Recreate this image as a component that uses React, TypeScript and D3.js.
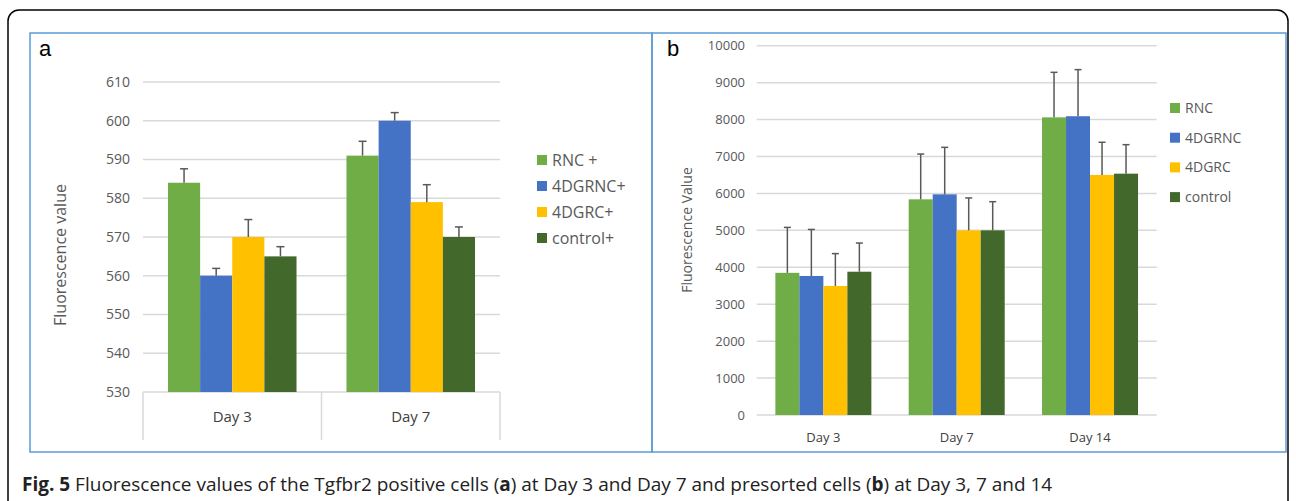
import React, { useEffect, useRef } from "react";
import * as d3 from "d3";

const daysA = ["Day 3", "Day 7"];
const seriesA = ["RNC +", "4DGRNC+", "4DGRC+", "control+"];
const valuesA = [
  [584, 560, 570, 565],
  [591, 600, 579, 570],
];
const errorsA = [
  [3.6, 1.9, 4.5, 2.5],
  [3.7, 2.1, 4.5, 2.6],
];
const ticksA = [530, 540, 550, 560, 570, 580, 590, 600, 610];

const daysB = ["Day 3", "Day 7", "Day 14"];
const seriesB = ["RNC", "4DGRNC", "4DGRC", "control"];
const valuesB = [
  [3850, 3765, 3495, 3880],
  [5840, 5975, 5000, 5000],
  [8060, 8090, 6500, 6535],
];
const errorsB = [
  [1230, 1260, 875, 777],
  [1226, 1273, 877, 776],
  [1219, 1262, 885, 785],
];
const ticksB = [0, 1000, 2000, 3000, 4000, 5000, 6000, 7000, 8000, 9000, 10000];

const colors = ["#70AD47", "#4472C4", "#FFC000", "#43682B"];
const font = "'Open Sans', 'Noto Sans', sans-serif";

const drawPanel = (svg, cfg) => {
  const g = svg.append("g");
  const y = d3.scaleLinear().domain(cfg.domain).range([cfg.bottom, cfg.top]);
  const x0 = d3.scaleBand().domain(cfg.days).range(cfg.xRange).padding(0);
  const gap = x0.bandwidth() * 0.14;
  const x1 = d3
    .scaleBand()
    .domain(d3.range(cfg.series.length))
    .range([gap, x0.bandwidth() - gap]);

  // gridlines
  g.selectAll(".grid")
    .data(cfg.ticks)
    .enter()
    .append("line")
    .attr("x1", cfg.xRange[0])
    .attr("x2", cfg.xRange[1])
    .attr("y1", (d) => y(d))
    .attr("y2", (d) => y(d))
    .attr("stroke", "#D9D9D9")
    .attr("stroke-width", 1.5);

  g.selectAll(".tick")
    .data(cfg.ticks)
    .enter()
    .append("text")
    .attr("x", cfg.labelX)
    .attr("y", (d) => y(d))
    .attr("dy", "0.35em")
    .attr("text-anchor", "end")
    .style("font-family", font)
    .style("font-size", cfg.tickSize + "px")
    .style("fill", "#595959")
    .text((d) => d);

  const groups = g
    .selectAll(".grp")
    .data(cfg.values)
    .enter()
    .append("g")
    .attr("transform", (d, i) => `translate(${x0(cfg.days[i])},0)`);

  groups
    .selectAll("rect")
    .data((d) => d)
    .enter()
    .append("rect")
    .attr("x", (d, j) => x1(j))
    .attr("width", x1.bandwidth())
    .attr("y", (d) => y(d))
    .attr("height", (d) => cfg.bottom - y(d))
    .attr("fill", (d, j) => colors[j]);

  // error bars (plus only)
  groups.each(function (row, i) {
    const eg = d3.select(this);
    row.forEach((v, j) => {
      const cx = x1(j) + x1.bandwidth() / 2;
      const top = y(v + cfg.errors[i][j]);
      eg.append("line")
        .attr("x1", cx)
        .attr("x2", cx)
        .attr("y1", y(v))
        .attr("y2", top)
        .attr("stroke", "#595959")
        .attr("stroke-width", 1.5);
      eg.append("line")
        .attr("x1", cx - cfg.cap)
        .attr("x2", cx + cfg.cap)
        .attr("y1", top)
        .attr("y2", top)
        .attr("stroke", "#595959")
        .attr("stroke-width", 1.5);
    });
  });

  if (cfg.boxAxis) {
    const edges = cfg.days.map((d) => x0(d)).concat([cfg.xRange[1]]);
    g.selectAll(".sep")
      .data(edges)
      .enter()
      .append("line")
      .attr("x1", (d) => d)
      .attr("x2", (d) => d)
      .attr("y1", cfg.bottom)
      .attr("y2", cfg.bottom + 48)
      .attr("stroke", "#D9D9D9")
      .attr("stroke-width", 1.5);
  }

  g.selectAll(".cat")
    .data(cfg.days)
    .enter()
    .append("text")
    .attr("x", (d) => x0(d) + x0.bandwidth() / 2)
    .attr("y", cfg.bottom + cfg.catDy)
    .attr("dy", "0.35em")
    .attr("text-anchor", "middle")
    .style("font-family", font)
    .style("font-size", cfg.catSize + "px")
    .style("fill", "#404040")
    .text((d) => d);

  g.append("text")
    .attr("transform", `translate(${cfg.titleX},${cfg.titleY}) rotate(-90)`)
    .attr("text-anchor", "middle")
    .attr("dy", "0.35em")
    .style("font-family", font)
    .style("font-size", cfg.titleSize + "px")
    .style("fill", "#595959")
    .text(cfg.title);

  const leg = g
    .selectAll(".leg")
    .data(cfg.series)
    .enter()
    .append("g")
    .attr("transform", (d, i) => `translate(${cfg.legX},${cfg.legY + i * cfg.legStep})`);
  leg
    .append("rect")
    .attr("x", 0)
    .attr("y", -5)
    .attr("width", 10)
    .attr("height", 10)
    .attr("fill", (d, i) => colors[i]);
  leg
    .append("text")
    .attr("x", 15)
    .attr("dy", "0.35em")
    .style("font-family", font)
    .style("font-size", cfg.legSize + "px")
    .style("fill", "#595959")
    .text((d) => d);

  g.append("text")
    .attr("x", cfg.letterX)
    .attr("y", 48)
    .attr("dy", "0.35em")
    .style("font-family", "'Liberation Sans', Arial, sans-serif")
    .style("font-size", "22px")
    .style("fill", "#000")
    .text(cfg.letter);
};

const App = () => {
  const ref = useRef(null);
  const width = 1296;
  const height = 501;

  useEffect(() => {
    const svg = d3.select(ref.current);
    svg.selectAll("*").remove();

    svg
      .append("rect")
      .attr("x", 8)
      .attr("y", 10)
      .attr("width", 1280)
      .attr("height", 520)
      .attr("rx", 11)
      .attr("fill", "#fff")
      .attr("stroke", "#000")
      .attr("stroke-width", 1.5);

    svg
      .append("rect")
      .attr("x", 30)
      .attr("y", 33)
      .attr("width", 622)
      .attr("height", 419)
      .attr("fill", "none")
      .attr("stroke", "#5B9BD5")
      .attr("stroke-width", 1.5);
    svg
      .append("rect")
      .attr("x", 652)
      .attr("y", 33)
      .attr("width", 634)
      .attr("height", 419)
      .attr("fill", "none")
      .attr("stroke", "#5B9BD5")
      .attr("stroke-width", 1.5);

    drawPanel(svg, {
      days: daysA,
      series: seriesA,
      values: valuesA,
      errors: errorsA,
      ticks: ticksA,
      domain: [530, 610],
      top: 82,
      bottom: 392,
      xRange: [143, 500],
      labelX: 130,
      tickSize: 14,
      cap: 4,
      boxAxis: true,
      catDy: 25,
      catSize: 15,
      title: "Fluorescence value",
      titleX: 60,
      titleY: 255,
      titleSize: 16,
      legX: 537,
      legY: 160,
      legStep: 26,
      legSize: 16,
      letter: "a",
      letterX: 39,
    });

    drawPanel(svg, {
      days: daysB,
      series: seriesB,
      values: valuesB,
      errors: errorsB,
      ticks: ticksB,
      domain: [0, 10000],
      top: 45.7,
      bottom: 415,
      xRange: [756.7, 1156.7],
      labelX: 745,
      tickSize: 13,
      cap: 3.5,
      boxAxis: false,
      catDy: 22,
      catSize: 13,
      title: "Fluorescence Value",
      titleX: 687,
      titleY: 230,
      titleSize: 14,
      legX: 1170,
      legY: 108,
      legStep: 29.7,
      legSize: 14,
      letter: "b",
      letterX: 667,
    });

    const cap = svg
      .append("text")
      .attr("x", 22)
      .attr("y", 484)
      .attr("dy", "0.35em")
      .style("font-family", font)
      .style("font-size", "19px")
      .style("fill", "#222");
    const parts = [
      ["Fig. 5", true],
      [" Fluorescence values of the Tgfbr2 positive cells (", false],
      ["a", true],
      [") at Day 3 and Day 7 and presorted cells (", false],
      ["b", true],
      [") at Day 3, 7 and 14", false],
    ];
    parts.forEach(([t, b]) => {
      cap
        .append("tspan")
        .style("font-weight", b ? "bold" : "normal")
        .text(t);
    });
  }, []);

  return (
    <svg
      ref={ref}
      width={width}
      height={height}
      style={{ position: "absolute", left: 0, top: 0, background: "#fff" }}
    ></svg>
  );
};

export default App;
